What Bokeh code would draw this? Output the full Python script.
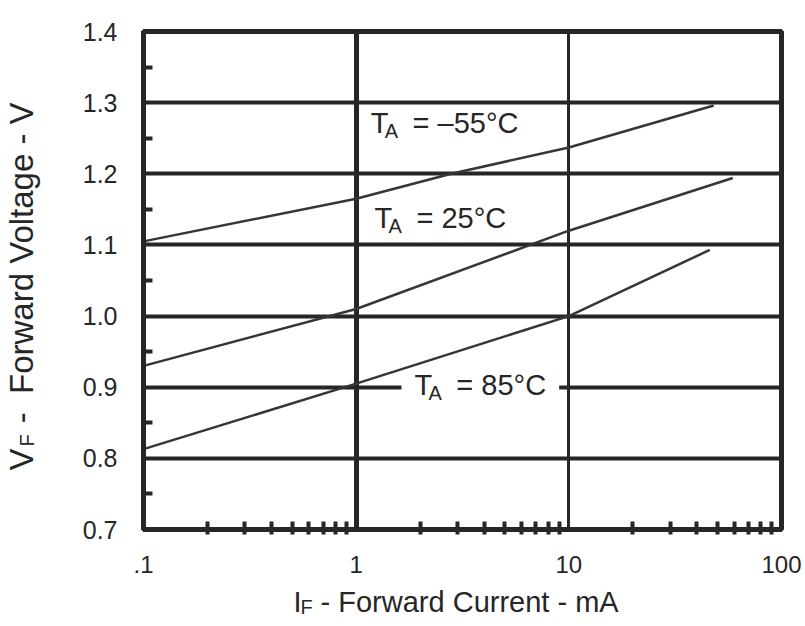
import math
from bokeh.plotting import figure
from bokeh.models import FixedTicker, Label, Range1d, Grid
from bokeh.embed import file_html
from bokeh.resources import INLINE

# ---- data ----
current_m55 = [0.1, 1, 2.8, 10, 48]
vf_m55 = [1.105, 1.165, 1.2, 1.237, 1.296]
current_25 = [0.1, 1, 10, 59]
vf_25 = [0.93, 1.01, 1.12, 1.194]
current_85 = [0.1, 1, 10, 46]
vf_85 = [0.813, 0.905, 1.0, 1.093]

x_ticks = [0.1, 1, 10, 100]
x_tick_labels = [".1", "1", "10", "100"]
x_minor = [0.2, 0.3, 0.4, 0.5, 0.6, 0.7, 0.8, 0.9,
           2, 3, 4, 5, 6, 7, 8, 9,
           20, 30, 40, 50, 60, 70, 80, 90]
y_ticks = [0.7, 0.8, 0.9, 1.0, 1.1, 1.2, 1.3, 1.4]
y_tick_labels = ["0.7", "0.8", "0.9", "1.0", "1.1", "1.2", "1.3", "1.4"]
y_minor = [0.75, 0.85, 0.95, 1.05, 1.15, 1.25, 1.35]
grid_x_major = [1]
grid_x_minor = [10]
grid_y = [0.8, 0.9, 1.0, 1.1, 1.2, 1.3]

curve_labels = ["= \u201355\u00b0C", "= 25\u00b0C", "= 85\u00b0C"]
label_x = [1.17, 1.22, 1.88]      # mA, left edge of the "T"
label_y = [1.2715, 1.138, 0.9032] # V

NB = "\u00a0"
INK = "#262626"
FONT = "Liberation Sans"

p = figure(x_axis_type="log", output_backend="svg", toolbar_location=None,
           x_range=Range1d(0.1, 100), y_range=Range1d(0.7, 1.4),
           frame_width=638, frame_height=498,
           min_border_left=143, min_border_right=24,
           min_border_top=31, min_border_bottom=96)
p.title.visible = False
p.background_fill_color = "white"
p.border_fill_color = "white"
p.outline_line_color = INK
p.outline_line_width = 5

# axes
for ax in (p.xaxis[0], p.yaxis[0]):
    ax.axis_line_color = INK
    ax.axis_line_width = 5
    ax.major_tick_in = 0
    ax.major_tick_out = 0
    ax.minor_tick_line_color = INK
    ax.minor_tick_line_width = 4
    ax.major_label_text_font = FONT
    ax.major_label_text_color = INK

p.xaxis.ticker = FixedTicker(ticks=x_ticks, minor_ticks=x_minor)
p.xaxis.major_label_overrides = dict(zip(x_ticks, x_tick_labels))
p.xaxis.minor_tick_in = 8
p.xaxis.minor_tick_out = 5
p.xaxis.major_label_standoff = 21
p.xaxis.major_label_text_font_size = "24px"

p.yaxis.ticker = FixedTicker(ticks=y_ticks, minor_ticks=y_minor)
p.yaxis.major_label_overrides = dict(zip(y_ticks, y_tick_labels))
p.yaxis.minor_tick_in = 9
p.yaxis.minor_tick_out = 0
p.yaxis.major_label_standoff = 26
p.yaxis.major_label_text_font_size = "25px"

# grid
p.xgrid.ticker = FixedTicker(ticks=grid_x_major)
p.ygrid.ticker = FixedTicker(ticks=grid_y)
for g in (p.xgrid[0], p.ygrid[0]):
    g.grid_line_color = INK
    g.grid_line_width = 4
    g.grid_line_alpha = 1.0
p.xgrid.grid_line_width = 5
p.add_layout(Grid(dimension=0, ticker=FixedTicker(ticks=grid_x_minor),
                  grid_line_color=INK, grid_line_width=3))

# curve labels (over the grid, under the curves)
for i, (lx, ly, txt) in enumerate(zip(label_x, label_y, curve_labels)):
    main = Label(x=lx, y=ly, text="T" + NB * 3 + txt, text_font=FONT,
                 text_font_size="29px", text_color=INK,
                 text_baseline="alphabetic", level="underlay")
    if i == 2:
        main.background_fill_color = "white"
        main.padding = 13
        main.x_offset = -13
    sub = Label(x=lx, y=ly, x_offset=14, y_offset=-8, text="A", text_font=FONT,
                text_font_size="20px", text_color=INK,
                text_baseline="alphabetic", level="underlay")
    p.add_layout(main)
    p.add_layout(sub)

# curves
for xs, ys in ((current_m55, vf_m55), (current_25, vf_25), (current_85, vf_85)):
    p.line(xs, ys, line_color="#363636", line_width=2.5)

# axis titles with subscripts, placed in the bottom panel (not clipped)
def title_piece(x, y, text, size, angle=0.0):
    lab = Label(x=x, y=y, x_units="canvas", y_units="canvas", text=text,
                text_font=FONT, text_font_size=size, text_color=INK,
                text_baseline="alphabetic", text_align="left", angle=angle)
    p.add_layout(lab, "below")

# x title: "I_F - Forward Current - mA"
title_piece(293, 601, "I", "29px")
title_piece(300, 606, "F", "20px")
title_piece(312, 601, NB + "- Forward Current - mA", "29px")

# y title: "V_F - Forward Voltage - V" (rotated, reads upwards)
title_piece(21, 470, "V", "33px", math.pi / 2)
title_piece(26, 446, "F", "20px", math.pi / 2)
title_piece(21, 432, NB + "-" + NB * 2 + "Forward Voltage - V", "33px", math.pi / 2)

open("out.html", "w").write(file_html(p, INLINE))
